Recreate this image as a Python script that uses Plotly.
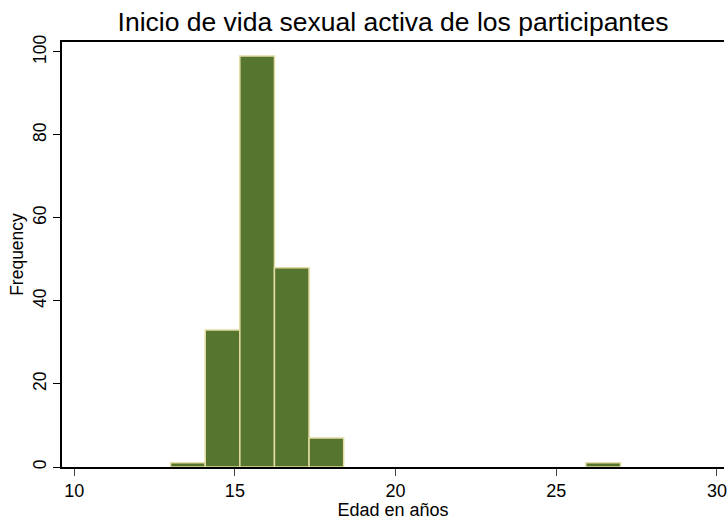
import plotly.graph_objects as go

# Histogram of age at first sexual activity (13 bins from 13 to 27 years)
bin_start = 13.0
bin_width = 14.0 / 13.0
counts = [1, 33, 99, 48, 7, 0, 0, 0, 0, 0, 0, 0, 1]

x_ticks = [10, 15, 20, 25, 30]
y_ticks = [0, 20, 40, 60, 80, 100]

centers = [bin_start + bin_width * (i + 0.5) for i in range(len(counts))]
xs = [c for c, n in zip(centers, counts) if n > 0]
ys = [n for n in counts if n > 0]

fig = go.Figure(
    go.Bar(
        x=xs,
        y=ys,
        width=bin_width,
        marker=dict(color="#56752f", line=dict(color="#e3dca4", width=1.5)),
        hoverinfo="x+y",
    )
)

fig.update_layout(
    width=727,
    height=520,
    margin=dict(l=62, r=0, t=42, b=53),
    paper_bgcolor="white",
    plot_bgcolor="white",
    showlegend=False,
    title=dict(
        text="Inicio de vida sexual activa de los participantes",
        x=0.5,
        xref="paper",
        xanchor="center",
        y=1 - 22 / 520,
        yanchor="middle",
        font=dict(family="Liberation Sans, Arial, sans-serif", size=26.5, color="black"),
    ),
    font=dict(family="Liberation Sans, Arial, sans-serif", color="black"),
)

fig.update_xaxes(
    range=[9.62, 30.22],
    tickvals=x_ticks,
    ticks="outside",
    ticklen=7,
    tickcolor="#444444",
    tickwidth=1,
    showline=True,
    linecolor="black",
    linewidth=1.5,
    mirror=True,
    showgrid=False,
    zeroline=False,
    tickfont=dict(size=18),
    ticklabeloverflow="allow",
    title=dict(text="Edad en años", font=dict(size=18), standoff=0),
)

fig.update_yaxes(
    range=[0, 102.4],
    tickvals=y_ticks,
    tickangle=-90,
    ticks="outside",
    ticklen=7,
    tickcolor="black",
    tickwidth=1,
    showline=True,
    linecolor="black",
    linewidth=1.5,
    showgrid=False,
    zeroline=False,
    tickfont=dict(size=17.5),
    title=dict(text="Frequency", font=dict(size=17.5), standoff=2),
)

fig.write_html("out.html")
